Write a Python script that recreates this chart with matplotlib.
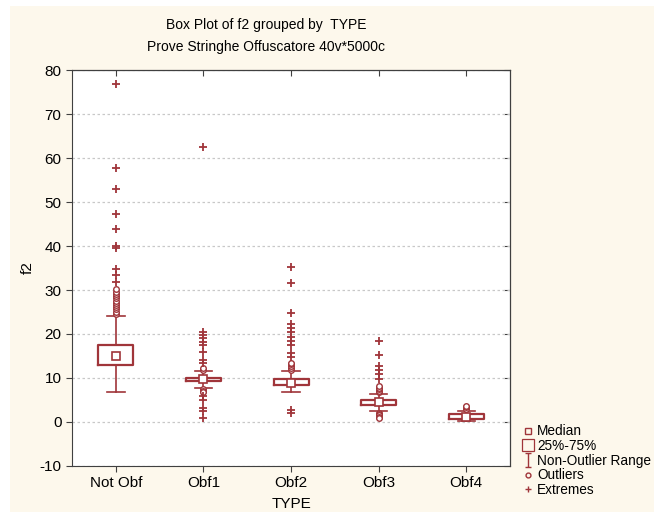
import matplotlib.pyplot as plt
from matplotlib.lines import Line2D
from matplotlib.patches import Rectangle
from matplotlib.path import Path

plt.rcParams["font.family"] = ["Liberation Sans", "DejaVu Sans"]
plt.rcParams["axes.unicode_minus"] = False

groups = ["Not Obf", "Obf1", "Obf2", "Obf3", "Obf4"]
medians = [15.1, 9.8, 8.9, 4.5, 1.1]
q1 = [12.9, 9.2, 8.3, 3.8, 0.6]
q3 = [17.5, 10.1, 9.7, 4.9, 1.7]
whisk_lo = [6.9, 7.7, 6.7, 2.4, 0.3]
whisk_hi = [24.0, 11.5, 11.5, 6.4, 2.6]

outliers = [
    [24.6, 25.1, 25.6, 26.1, 26.6, 27.1, 27.6, 28.1, 28.6, 29.1, 29.6, 30.2],
    [11.9, 12.2, 7.4, 7.0, 6.7],
    [11.9, 12.3, 12.7, 13.1, 13.5],
    [6.7, 7.0, 7.4, 7.8, 8.1, 2.1, 1.8, 1.5, 1.2, 0.9],
    [3.0, 3.3, 3.7],
]
extremes = [
    [76.8, 57.7, 53.0, 47.3, 43.9, 40.0, 39.5, 34.8, 33.4, 31.9],
    [62.5, 20.5, 19.8, 19.0, 18.2, 17.4, 15.8, 14.1, 13.3, 5.8, 4.9, 3.2, 2.5, 0.8],
    [35.3, 31.5, 24.8, 22.3, 21.3, 20.4, 19.3, 18.5, 17.5, 15.6, 14.7, 2.8, 2.0],
    [18.3, 15.2, 12.8, 11.8, 10.8, 9.7],
    [],
]

red = "#a0353a"
cream = "#fdf8ec"

fig = plt.figure(figsize=(6.54, 5.12), dpi=100)
fig.patch.set_facecolor("white")
fig.add_artist(Rectangle((10 / 654, 0), 1, 1 - 6 / 512, transform=fig.transFigure,
                         facecolor=cream, edgecolor="none", zorder=-10))

ax = fig.add_axes([0.110, 0.090, 0.670, 0.773])
ax.set_facecolor("white")

positions = list(range(1, len(groups) + 1))
stats = [
    dict(med=m, q1=a, q3=b, whislo=lo, whishi=hi, fliers=[])
    for m, a, b, lo, hi in zip(medians, q1, q3, whisk_lo, whisk_hi)
]
ax.bxp(stats, positions=positions, widths=0.4, capwidths=0.2, showfliers=False,
       boxprops=dict(color=red, linewidth=1.6),
       whiskerprops=dict(color=red, linewidth=1.2),
       capprops=dict(color=red, linewidth=1.2),
       medianprops=dict(linestyle="none"))

ax.plot(positions, medians, "s", color=red, markerfacecolor="white", markersize=5.5,
        markeredgewidth=1.2, zorder=4)
for p, vals in zip(positions, outliers):
    ax.plot([p] * len(vals), vals, "o", color=red, markerfacecolor="white",
            markersize=4, markeredgewidth=1, zorder=3)
for p, vals in zip(positions, extremes):
    ax.plot([p] * len(vals), vals, "+", color=red, markersize=6,
            markeredgewidth=1.3, zorder=3)

ax.set_xlim(0.5, 5.5)
ax.set_ylim(-10, 80)
ax.set_yticks(range(-10, 81, 10))
ax.set_xticks(positions, groups)
ax.tick_params(labelsize=11, direction="out", length=4, color="#404040")
ax.yaxis.grid(True, linestyle=(0, (2, 2)), color="#c8c8c8", linewidth=0.9)
ax.set_axisbelow(True)
for s in ax.spines.values():
    s.set_color("#404040")

sx = ax.secondary_xaxis("top")
sx.set_xticks(positions)
sx.tick_params(direction="in", length=4, labeltop=False, color="#404040")
sy = ax.secondary_yaxis("right")
sy.set_yticks(range(-10, 81, 10))
sy.tick_params(direction="in", length=4, labelright=False, color="#404040")

ax.set_xlabel("TYPE", fontsize=11, labelpad=5)
ax.set_ylabel("f2", fontsize=11)
ax.yaxis.set_label_coords(-0.085, 0.5)

fig.text(266 / 654, 1 - 25 / 512, "Box Plot of f2 grouped by  TYPE", ha="center",
         va="center", fontsize=10)
fig.text(266 / 654, 1 - 47 / 512, "Prove Stringhe Offuscatore 40v*5000c", ha="center",
         va="center", fontsize=10)

ibeam = Path([(-0.5, 1), (0.5, 1), (0, 1), (0, -1), (-0.5, -1), (0.5, -1)],
             [Path.MOVETO, Path.LINETO, Path.MOVETO, Path.LINETO, Path.MOVETO, Path.LINETO])
handles = [
    Line2D([], [], marker="s", linestyle="none", color=red, markerfacecolor="none", markersize=4),
    Line2D([], [], marker="s", linestyle="none", color=red, markerfacecolor="none", markersize=9,
           markeredgewidth=0.9),
    Line2D([], [], marker=ibeam, linestyle="none", color=red, markersize=10, markeredgewidth=1),
    Line2D([], [], marker="o", linestyle="none", color=red, markerfacecolor="none", markersize=3.5),
    Line2D([], [], marker="+", linestyle="none", color=red, markersize=5),
]
labels = ["Median", "25%-75%", "Non-Outlier Range", "Outliers", "Extremes"]
fig.legend(handles, labels, loc="lower left", bbox_to_anchor=(0.788, 0.016), frameon=False,
           fontsize=9.8, handlelength=0.8, handletextpad=0.3, labelspacing=0.05, borderpad=0)

fig.savefig("out.png", dpi=100, facecolor=fig.get_facecolor())
